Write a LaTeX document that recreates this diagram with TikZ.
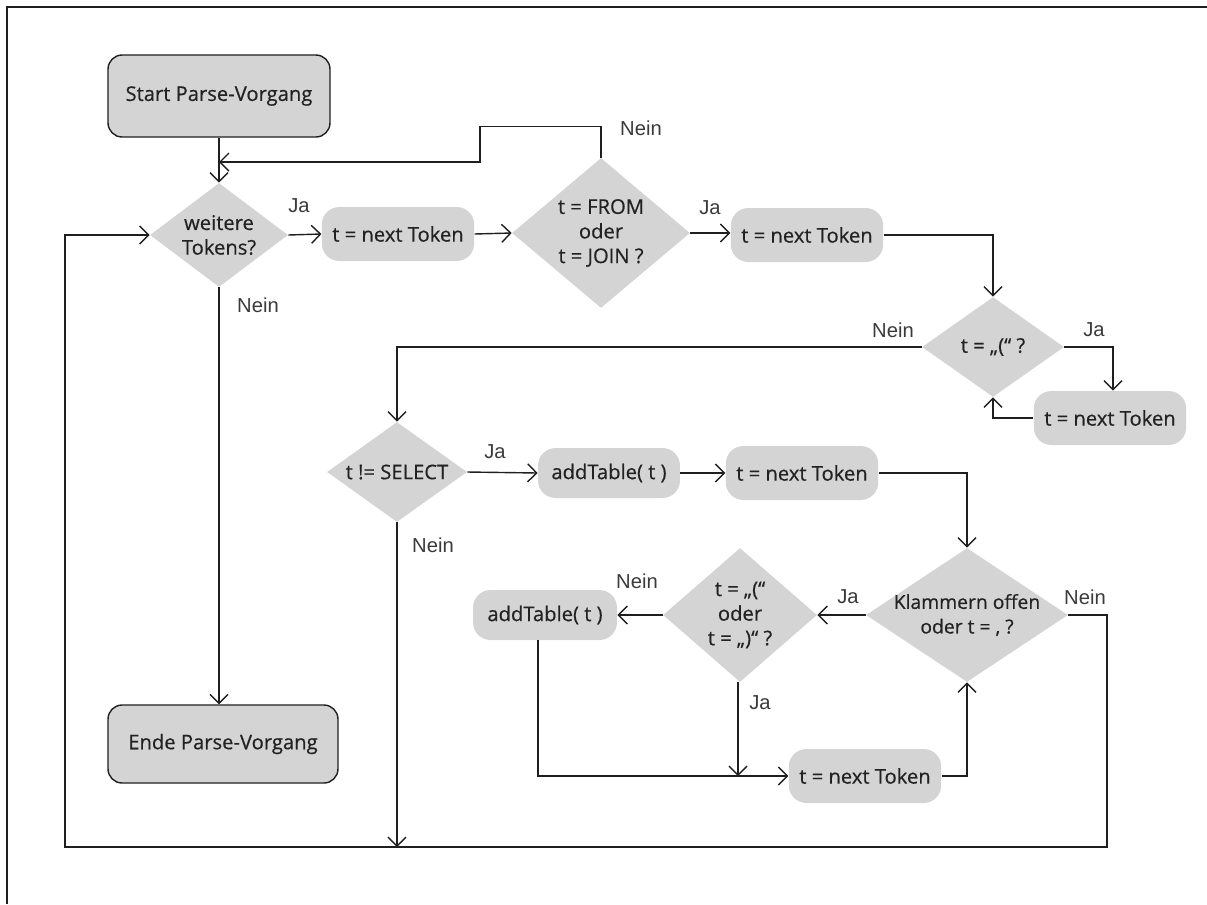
\documentclass[tikz,border=0pt]{standalone}
\usepackage{fontspec}
\setmainfont{Open Sans}
\newfontfamily\nodefont{Open Sans}[FakeBold=0.5]
\newfontfamily\lblfont{Liberation Sans}
\usetikzlibrary{arrows.meta, positioning, shapes.geometric}
\definecolor{flowGray}{HTML}{D4D4D4}
\definecolor{flowLine}{HTML}{1F1F1F}
\definecolor{flowText}{HTML}{222222}
\definecolor{lblText}{HTML}{3A3A3A}
\tikzset{
  arrowF/.style={-{Straight Barb[length=1.8mm, width=3.6mm]}, color=flowLine, line width=0.8pt},
  lineF/.style={color=flowLine, line width=0.8pt},
  boxTerm/.style={rectangle, rounded corners=8pt, draw=flowLine, line width=0.8pt,
                  fill=flowGray, text=flowText, font=\nodefont\fontsize{11.5}{14}\selectfont,
                  inner sep=2pt},
  boxStep/.style={rectangle, rounded corners=10pt, fill=flowGray, text=flowText,
                  font=\nodefont\fontsize{11.5}{14}\selectfont, inner sep=2pt,
                  minimum width=3.05cm, minimum height=1.08cm},
  boxDec/.style={diamond, fill=flowGray, inner sep=0pt},
  decText/.style={align=center, text=flowText, font=\nodefont\fontsize{11.5}{14}\selectfont},
  lblF/.style={text=lblText, font=\lblfont\fontsize{11.5}{13}\selectfont},
}
\begin{document}
\begin{tikzpicture}[x=0.02cm, y=-0.02cm]
    \useasboundingbox (0,0) rectangle (1207,904);
    \draw[color=flowLine, line width=1.2pt] (7,904) -- (7,7) -- (1207,7);

    % Knoten
    \node[boxTerm, minimum width=4.44cm, minimum height=1.64cm]
      (start) at (219,96) {Start Parse-Vorgang};
    \node[boxDec, minimum width=2.76cm, minimum height=2.08cm,
      label={[decText]center:{weitere\\Tokens?}}] (d1) at (219,235) {};
    \node[boxStep] (b1) at (398,234) {t = next Token};
    \node[boxDec, minimum width=3.56cm, minimum height=3.0cm,
      label={[decText]center:{t = FROM\\oder\\t = JOIN ?}}] (d2) at (601,233) {};
    \node[boxStep] (b2) at (807,235) {t = next Token};
    \node[boxDec, minimum width=2.84cm, minimum height=2.0cm,
      label={[decText]center:{t = „(“ ?}}] (d3) at (993,347) {};
    \node[boxStep] (b3) at (1110,418) {t = next Token};
    \node[boxDec, minimum width=2.8cm, minimum height=2.0cm,
      label={[decText]center:{t != SELECT}}] (d4) at (397,472) {};
    \node[boxStep, minimum width=2.84cm, minimum height=1.0cm]
      (a1) at (609,473) {addTable( t )};
    \node[boxStep] (b4) at (802,473) {t = next Token};
    \node[boxDec, minimum width=4.04cm, minimum height=2.68cm,
      label={[decText, font=\nodefont\fontsize{11}{14}\selectfont]center:{Klammern offen\\oder t = , ?}}]
      (d5) at (967,615) {};
    \node[boxDec, minimum width=3.08cm, minimum height=2.68cm,
      label={[decText]center:{t = „(“\\oder\\t = „)“ ?}}] (d6) at (740,615) {};
    \node[boxStep, minimum width=2.88cm, minimum height=1.0cm]
      (a2) at (545,615) {addTable( t )};
    \node[boxStep] (b5) at (865,776) {t = next Token};
    \node[boxTerm, minimum width=4.6cm, minimum height=1.56cm]
      (end) at (223,744) {Ende Parse-Vorgang};

    \coordinate (j1) at (219,162);
    \coordinate (loopR) at (1107,847);
    \coordinate (loopL) at (65,847);

    % Verbindungen
    \draw[arrowF] (start) -- (d1);
    \draw[arrowF] (d2.north) -- ++(0,-31) -| (480,162) -- (j1);
    \draw[arrowF] (d1.east) -- (b1.west);
    \draw[arrowF] (b1.east) -- (d2.west);
    \draw[arrowF] (d2.east) -- (b2.west |- d2.east);
    \draw[arrowF] (b2.east) -| (d3.north);
    \draw[arrowF] (d3.west) -| (d4.north);
    \draw[arrowF] (d3.east) -| ([xshift=0.06cm]b3.north);
    \draw[arrowF] (b3.west) -| (d3.south);
    \draw[arrowF] (d4.east) -- (a1.west);
    \draw[arrowF] (a1.east) -- (b4.west);
    \draw[arrowF] (b4.east) -| (d5.north);
    \draw[arrowF] (d5.west) -- (d6.east);
    \draw[arrowF] (d6.west) -- (a2.east);
    \draw[arrowF] ([xshift=-0.14cm]a2.south) |- (b5.west);
    \draw[arrowF] ([xshift=-0.04cm]d6.south) -- ([xshift=-0.04cm]d6.south |- b5.west);
    \draw[arrowF] (b5.east) -| (d5.south);
    \draw[arrowF] (d5.east) -| (loopR) -- (loopL) |- (d1.west);
    \draw[arrowF] (d4.south) -- (d4.south |- loopL);
    \draw[arrowF] (d1.south) -- (d1.south |- end.north);

    % Beschriftungen
    \node[lblF] (n1) at (641,128) {Nein};
    \node[lblF] (y1) at (299,206) {Ja};
    \node[lblF] (y2) at (710,208) {Ja};
    \node[lblF] (n2) at (258,305) {Nein};
    \node[lblF] (n3) at (893,330) {Nein};
    \node[lblF] (y3) at (1094,330) {Ja};
    \node[lblF] (y4) at (495,452) {Ja};
    \node[lblF] (n4) at (433,545) {Nein};
    \node[lblF] (n5) at (637,581) {Nein};
    \node[lblF] (y5) at (848,597) {Ja};
    \node[lblF] (n6) at (1085,597) {Nein};
    \node[lblF] (y6) at (760,703) {Ja};
  \end{tikzpicture}
\end{document}
